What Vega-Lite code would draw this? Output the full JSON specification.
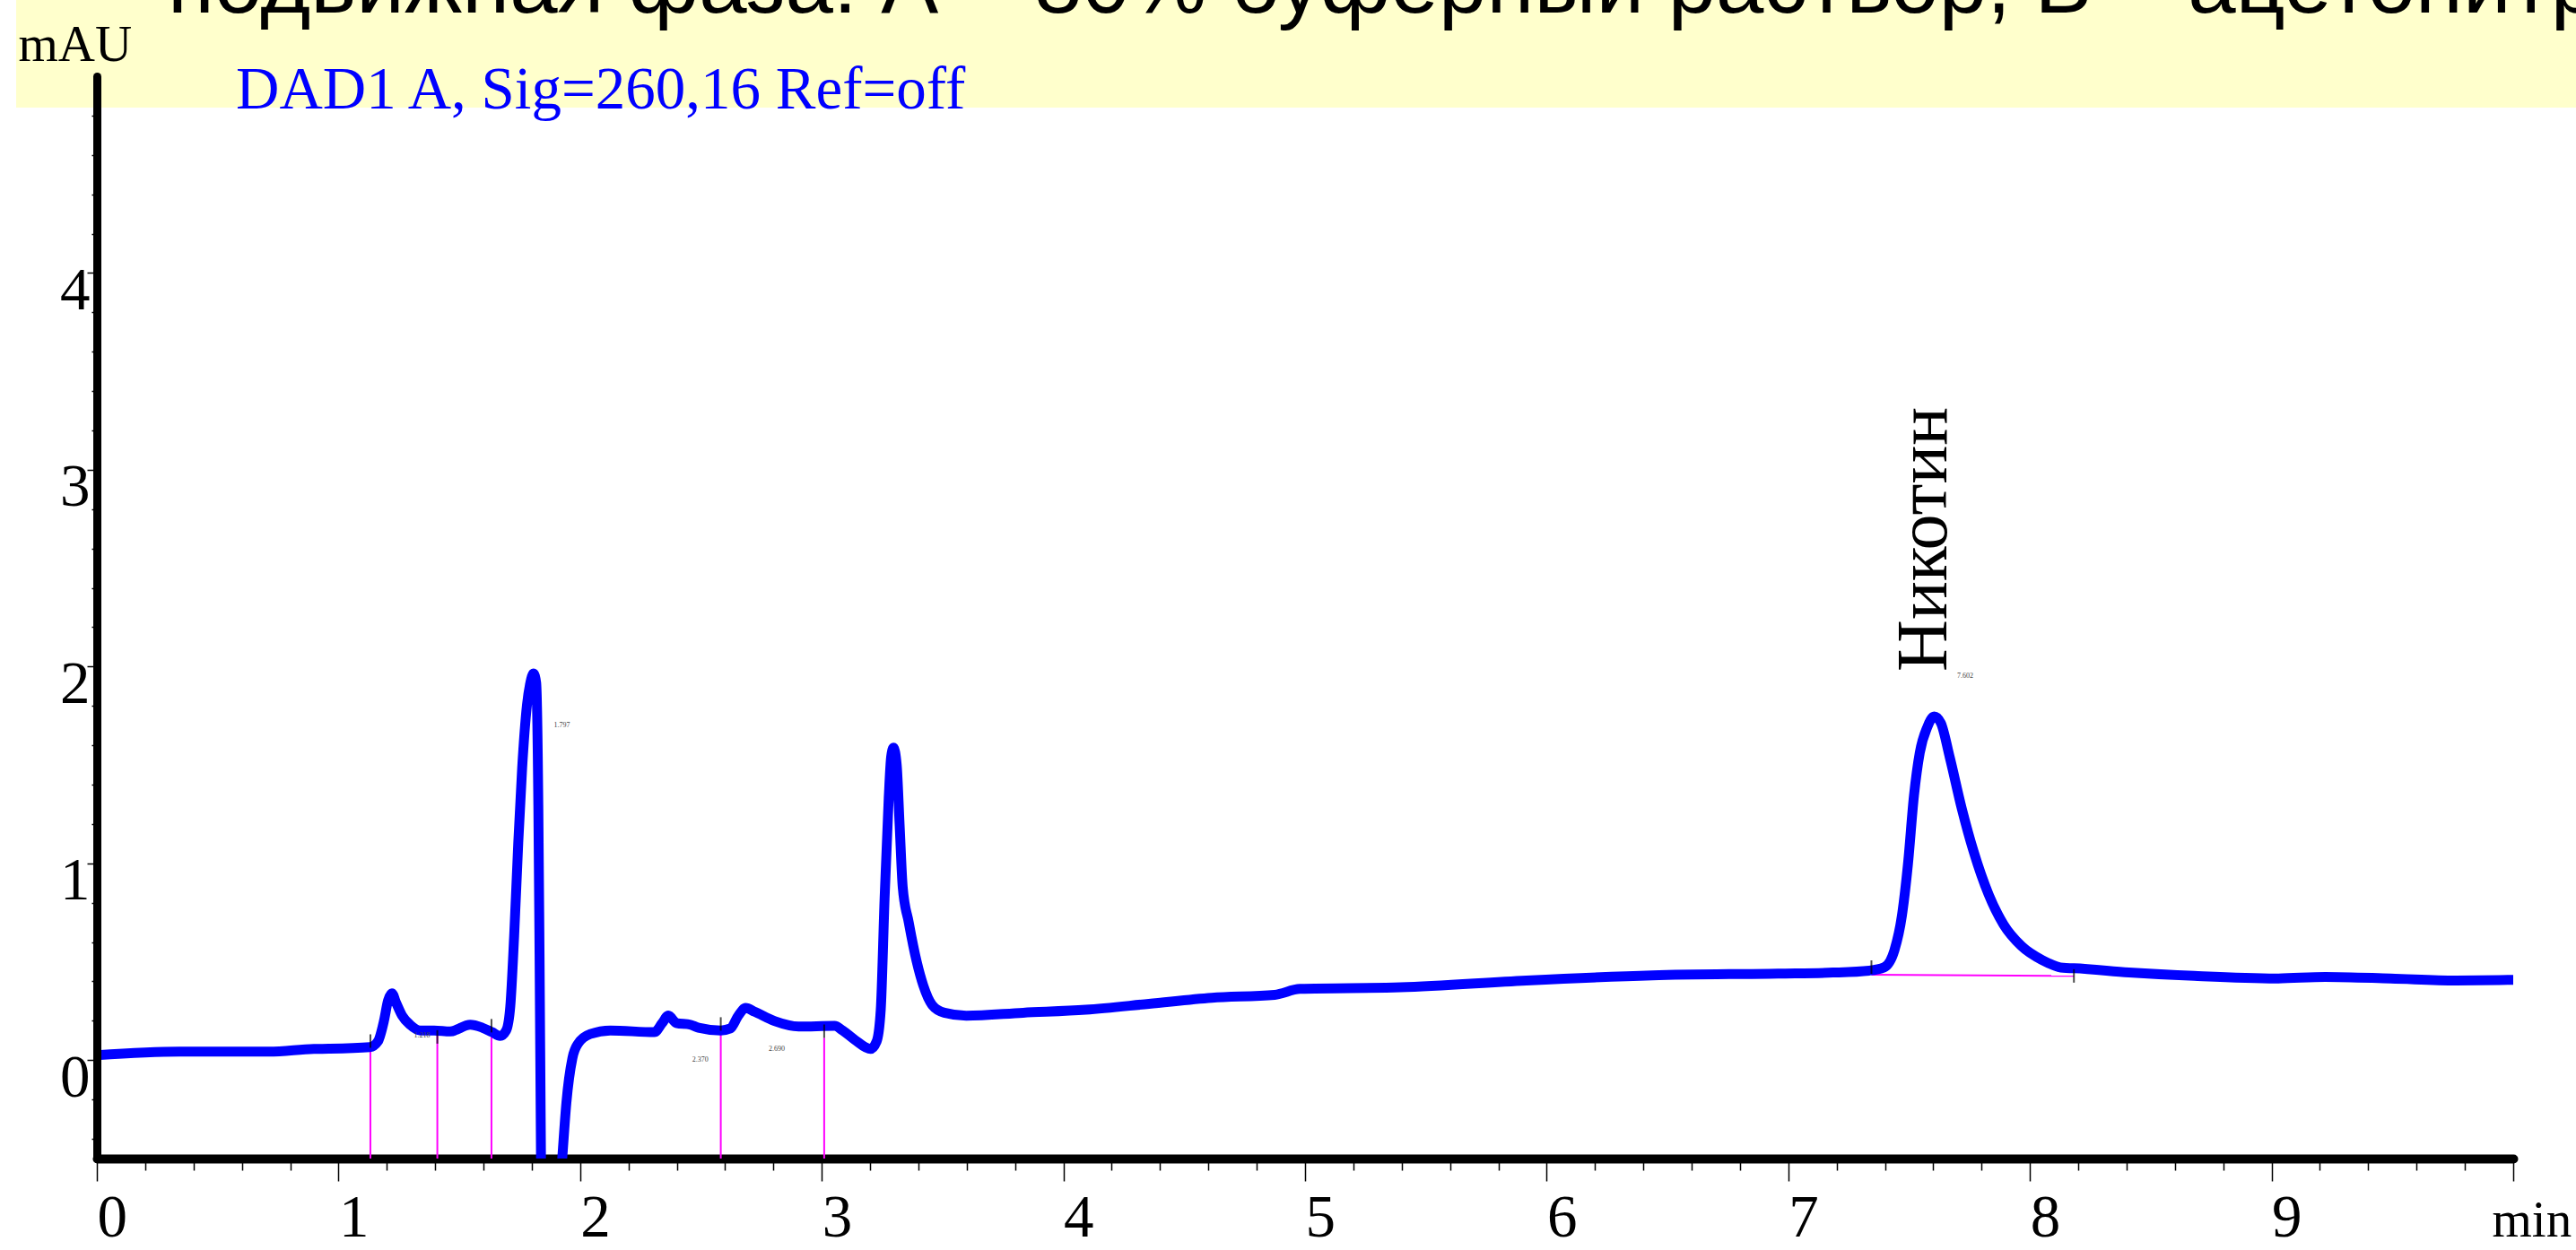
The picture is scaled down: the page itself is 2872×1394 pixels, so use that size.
{
  "$schema": "https://vega.github.io/schema/vega-lite/v6.json",
  "width": 2694,
  "height": 1207,
  "autosize": "none",
  "padding": {"left": 108, "top": 85, "right": 70, "bottom": 102},
  "background": "white",
  "config": {"view": {"stroke": null}},
  "title": {
    "text": "подвижная фаза: А – 80% буферный раствор, В – ацетонитрил",
    "anchor": "start",
    "frame": "group",
    "font": "Liberation Sans",
    "fontSize": 96,
    "fontWeight": "normal",
    "color": "black",
    "baseline": "alphabetic",
    "offset": -111,
    "dx": 79,
    "limit": 5000,
    "zindex": 2
  },
  "datasets": {
    "trace": [
      {"time": 0.0, "mAU": 0.025}, {"time": 0.342, "mAU": 0.043}, {"time": 0.713, "mAU": 0.043},
      {"time": 0.898, "mAU": 0.057}, {"time": 0.96, "mAU": 0.058}, {"time": 1.13, "mAU": 0.066},
      {"time": 1.163, "mAU": 0.095}, {"time": 1.188, "mAU": 0.199}, {"time": 1.205, "mAU": 0.303},
      {"time": 1.221, "mAU": 0.34}, {"time": 1.238, "mAU": 0.293}, {"time": 1.263, "mAU": 0.227},
      {"time": 1.296, "mAU": 0.18}, {"time": 1.338, "mAU": 0.151}, {"time": 1.396, "mAU": 0.151},
      {"time": 1.462, "mAU": 0.146}, {"time": 1.545, "mAU": 0.18}, {"time": 1.595, "mAU": 0.165},
      {"time": 1.636, "mAU": 0.142}, {"time": 1.669, "mAU": 0.123}, {"time": 1.694, "mAU": 0.151},
      {"time": 1.711, "mAU": 0.274}, {"time": 1.727, "mAU": 0.633}, {"time": 1.744, "mAU": 1.106},
      {"time": 1.76, "mAU": 1.484}, {"time": 1.78, "mAU": 1.805}, {"time": 1.794, "mAU": 1.918},
      {"time": 1.807, "mAU": 1.965}, {"time": 1.818, "mAU": 1.918}, {"time": 1.827, "mAU": 1.294},
      {"time": 1.832, "mAU": 0.539}, {"time": 1.838, "mAU": -0.5}, {"time": 1.845, "mAU": -1.4},
      {"time": 1.87, "mAU": -1.8}, {"time": 1.895, "mAU": -1.1}, {"time": 1.926, "mAU": -0.5},
      {"time": 1.943, "mAU": -0.217}, {"time": 1.968, "mAU": 0.01}, {"time": 1.992, "mAU": 0.085},
      {"time": 2.042, "mAU": 0.133}, {"time": 2.125, "mAU": 0.151}, {"time": 2.307, "mAU": 0.142},
      {"time": 2.34, "mAU": 0.189}, {"time": 2.365, "mAU": 0.227}, {"time": 2.398, "mAU": 0.189},
      {"time": 2.456, "mAU": 0.18}, {"time": 2.49, "mAU": 0.165}, {"time": 2.582, "mAU": 0.151},
      {"time": 2.622, "mAU": 0.161}, {"time": 2.655, "mAU": 0.227}, {"time": 2.685, "mAU": 0.265},
      {"time": 2.722, "mAU": 0.246}, {"time": 2.804, "mAU": 0.199}, {"time": 2.904, "mAU": 0.171},
      {"time": 3.053, "mAU": 0.174}, {"time": 3.086, "mAU": 0.151}, {"time": 3.136, "mAU": 0.104},
      {"time": 3.202, "mAU": 0.057}, {"time": 3.227, "mAU": 0.095}, {"time": 3.244, "mAU": 0.255},
      {"time": 3.26, "mAU": 0.822}, {"time": 3.277, "mAU": 1.332}, {"time": 3.287, "mAU": 1.54},
      {"time": 3.297, "mAU": 1.588}, {"time": 3.31, "mAU": 1.502}, {"time": 3.322, "mAU": 1.2},
      {"time": 3.335, "mAU": 0.879}, {"time": 3.36, "mAU": 0.7}, {"time": 3.393, "mAU": 0.5},
      {"time": 3.42, "mAU": 0.38}, {"time": 3.457, "mAU": 0.28}, {"time": 3.507, "mAU": 0.241},
      {"time": 3.598, "mAU": 0.226}, {"time": 3.833, "mAU": 0.241}, {"time": 4.093, "mAU": 0.256},
      {"time": 4.354, "mAU": 0.286}, {"time": 4.614, "mAU": 0.317}, {"time": 4.874, "mAU": 0.332},
      {"time": 4.979, "mAU": 0.362}, {"time": 5.395, "mAU": 0.37}, {"time": 5.916, "mAU": 0.405},
      {"time": 6.437, "mAU": 0.431}, {"time": 6.958, "mAU": 0.44}, {"time": 7.185, "mAU": 0.445},
      {"time": 7.335, "mAU": 0.455}, {"time": 7.396, "mAU": 0.471}, {"time": 7.439, "mAU": 0.558},
      {"time": 7.47, "mAU": 0.733}, {"time": 7.495, "mAU": 0.994}, {"time": 7.52, "mAU": 1.344},
      {"time": 7.544, "mAU": 1.562}, {"time": 7.575, "mAU": 1.692}, {"time": 7.604, "mAU": 1.747},
      {"time": 7.631, "mAU": 1.714}, {"time": 7.668, "mAU": 1.54}, {"time": 7.718, "mAU": 1.278},
      {"time": 7.767, "mAU": 1.06}, {"time": 7.829, "mAU": 0.842}, {"time": 7.891, "mAU": 0.689},
      {"time": 7.965, "mAU": 0.58}, {"time": 8.052, "mAU": 0.508}, {"time": 8.138, "mAU": 0.469},
      {"time": 8.182, "mAU": 0.467}, {"time": 8.41, "mAU": 0.446}, {"time": 8.68, "mAU": 0.428},
      {"time": 9.018, "mAU": 0.415}, {"time": 9.222, "mAU": 0.423}, {"time": 9.493, "mAU": 0.415},
      {"time": 9.763, "mAU": 0.405}, {"time": 10.0, "mAU": 0.408}
    ],
    "drops": [
      {"time": 1.132, "mAU": 0.086}, {"time": 1.409, "mAU": 0.14}, {"time": 1.633, "mAU": 0.14},
      {"time": 2.582, "mAU": 0.15}, {"time": 3.01, "mAU": 0.113}
    ],
    "baselines": [
      {"t1": 7.344, "v1": 0.434, "t2": 8.182, "v2": 0.428}
    ],
    "marks": [
      {"time": 1.132, "mAU": 0.097}, {"time": 1.409, "mAU": 0.118}, {"time": 1.633, "mAU": 0.175},
      {"time": 2.582, "mAU": 0.184}, {"time": 3.01, "mAU": 0.147}, {"time": 7.344, "mAU": 0.473},
      {"time": 8.182, "mAU": 0.428}
    ],
    "rtlabels": [
      {"time": 1.925, "mAU": 1.701, "label": "1.797"},
      {"time": 1.346, "mAU": 0.122, "label": "1.218"},
      {"time": 2.497, "mAU": 0.0, "label": "2.370"},
      {"time": 2.814, "mAU": 0.054, "label": "2.690"},
      {"time": 7.732, "mAU": 1.95, "label": "7.602"}
    ],
    "peaks": [
      {"rt": 7.602, "height": 1.747, "name": "Никотин"}
    ]
  },
  "layer": [
    {
      "data": {"values": [{}]},
      "mark": {"type": "rect", "color": "#FFFFCC"},
      "encoding": {
        "x": {
          "datum": -0.334, "type": "quantitative",
          "scale": {"domain": [0, 10], "nice": false, "zero": false},
          "axis": {
            "values": [0, 0.2, 0.4, 0.6, 0.8, 1, 1.2, 1.4, 1.6, 1.8, 2, 2.2, 2.4, 2.6, 2.8, 3, 3.2, 3.4, 3.6, 3.8, 4, 4.2, 4.4, 4.6, 4.8, 5, 5.2, 5.4, 5.6, 5.8, 6, 6.2, 6.4, 6.6, 6.8, 7, 7.2, 7.4, 7.6, 7.8, 8, 8.2, 8.4, 8.6, 8.8, 9, 9.2, 9.4, 9.6, 9.8, 10],
            "title": "min",
            "titleFont": "Liberation Serif", "titleFontSize": 57, "titleFontWeight": "normal", "titleColor": "black",
            "titleX": 2670, "titleY": 86, "titleAlign": "left", "titleBaseline": "alphabetic", "titleAngle": 0,
            "labelExpr": "datum.value % 1 === 0 && datum.value < 10 ? format(datum.value, 'd') : ''",
            "labelFont": "Liberation Serif", "labelFontSize": 67, "labelColor": "black",
            "labelAlign": "left", "labelBaseline": "alphabetic", "labelPadding": 61,
            "labelOverlap": false, "labelFlush": false, "labelBound": false,
            "tickSize": {"condition": {"test": "datum.value % 1 === 0", "value": 25}, "value": 13},
            "tickColor": "black", "tickWidth": 1.5,
            "domainColor": "black", "domainWidth": 10, "domainCap": "round",
            "grid": false, "zindex": 0
          }
        },
        "x2": {"datum": 10.4},
        "y": {
          "datum": 5.39, "type": "quantitative",
          "scale": {"domain": [-0.5, 5.0], "nice": false, "zero": false},
          "axis": {
            "values": [-0.4, -0.2, 0, 0.2, 0.4, 0.6, 0.8, 1, 1.2, 1.4, 1.6, 1.8, 2, 2.2, 2.4, 2.6, 2.8, 3, 3.2, 3.4, 3.6, 3.8, 4, 4.2, 4.4, 4.6, 4.8],
            "title": "mAU",
            "titleFont": "Liberation Serif", "titleFontSize": 57, "titleFontWeight": "normal", "titleColor": "black",
            "titleAngle": 0, "titleAlign": "left", "titleBaseline": "alphabetic", "titleX": -88, "titleY": -18,
            "labelExpr": "datum.value % 1 === 0 ? format(datum.value, 'd') : ''",
            "labelFont": "Liberation Serif", "labelFontSize": 67, "labelColor": "black",
            "labelAlign": "right", "labelBaseline": "alphabetic", "labelOffset": 40, "labelPadding": -3,
            "labelOverlap": false, "labelFlush": false, "labelBound": false,
            "tickSize": {"condition": {"test": "datum.value % 1 === 0", "value": 11}, "value": 6},
            "tickColor": "black", "tickWidth": 1.5,
            "domainColor": "black", "domainWidth": 9, "domainCap": "round",
            "grid": false, "zindex": 1
          }
        },
        "y2": {"datum": 4.84}
      }
    },
    {
      "data": {"name": "drops"},
      "mark": {"type": "rule", "color": "#FF00FF", "strokeWidth": 2},
      "encoding": {
        "x": {"field": "time", "type": "quantitative"},
        "y": {"field": "mAU", "type": "quantitative"},
        "y2": {"datum": -0.5}
      }
    },
    {
      "data": {"name": "baselines"},
      "mark": {"type": "rule", "color": "#FF00FF", "strokeWidth": 2},
      "encoding": {
        "x": {"field": "t1", "type": "quantitative"},
        "y": {"field": "v1", "type": "quantitative"},
        "x2": {"field": "t2"},
        "y2": {"field": "v2"}
      }
    },
    {
      "data": {"name": "trace"},
      "mark": {"type": "line", "strokeWidth": 11, "strokeCap": "round", "strokeJoin": "round", "interpolate": "monotone", "clip": true},
      "encoding": {
        "x": {"field": "time", "type": "quantitative"},
        "y": {"field": "mAU", "type": "quantitative"},
        "color": {
          "datum": "DAD1 A, Sig=260,16 Ref=off", "type": "nominal",
          "scale": {"range": ["#0000FF"]},
          "legend": {
            "orient": "none", "legendX": 88, "legendY": -18,
            "title": null, "padding": 0,
            "symbolOpacity": 0, "symbolSize": 0, "symbolStrokeWidth": 0,
            "labelFont": "Liberation Serif", "labelFontSize": 67, "labelColor": "#0000FF",
            "labelOffset": 0, "labelLimit": 2000, "zindex": 1
          }
        }
      }
    },
    {
      "data": {"name": "marks"},
      "mark": {"type": "tick", "orient": "vertical", "size": 15, "thickness": 2, "color": "black"},
      "encoding": {
        "x": {"field": "time", "type": "quantitative"},
        "y": {"field": "mAU", "type": "quantitative"}
      }
    },
    {
      "data": {"name": "rtlabels"},
      "mark": {"type": "text", "font": "Liberation Serif", "fontSize": 8, "color": "#444444", "align": "center", "baseline": "middle"},
      "encoding": {
        "x": {"field": "time", "type": "quantitative"},
        "y": {"field": "mAU", "type": "quantitative"},
        "text": {"field": "label"}
      }
    },
    {
      "data": {"name": "peaks"},
      "mark": {"type": "text", "font": "Liberation Serif", "fontSize": 80, "color": "black", "angle": 270, "align": "left", "baseline": "alphabetic", "dx": 50, "dy": 14},
      "encoding": {
        "x": {"field": "rt", "type": "quantitative"},
        "y": {"field": "height", "type": "quantitative"},
        "text": {"field": "name"}
      }
    }
  ]
}
